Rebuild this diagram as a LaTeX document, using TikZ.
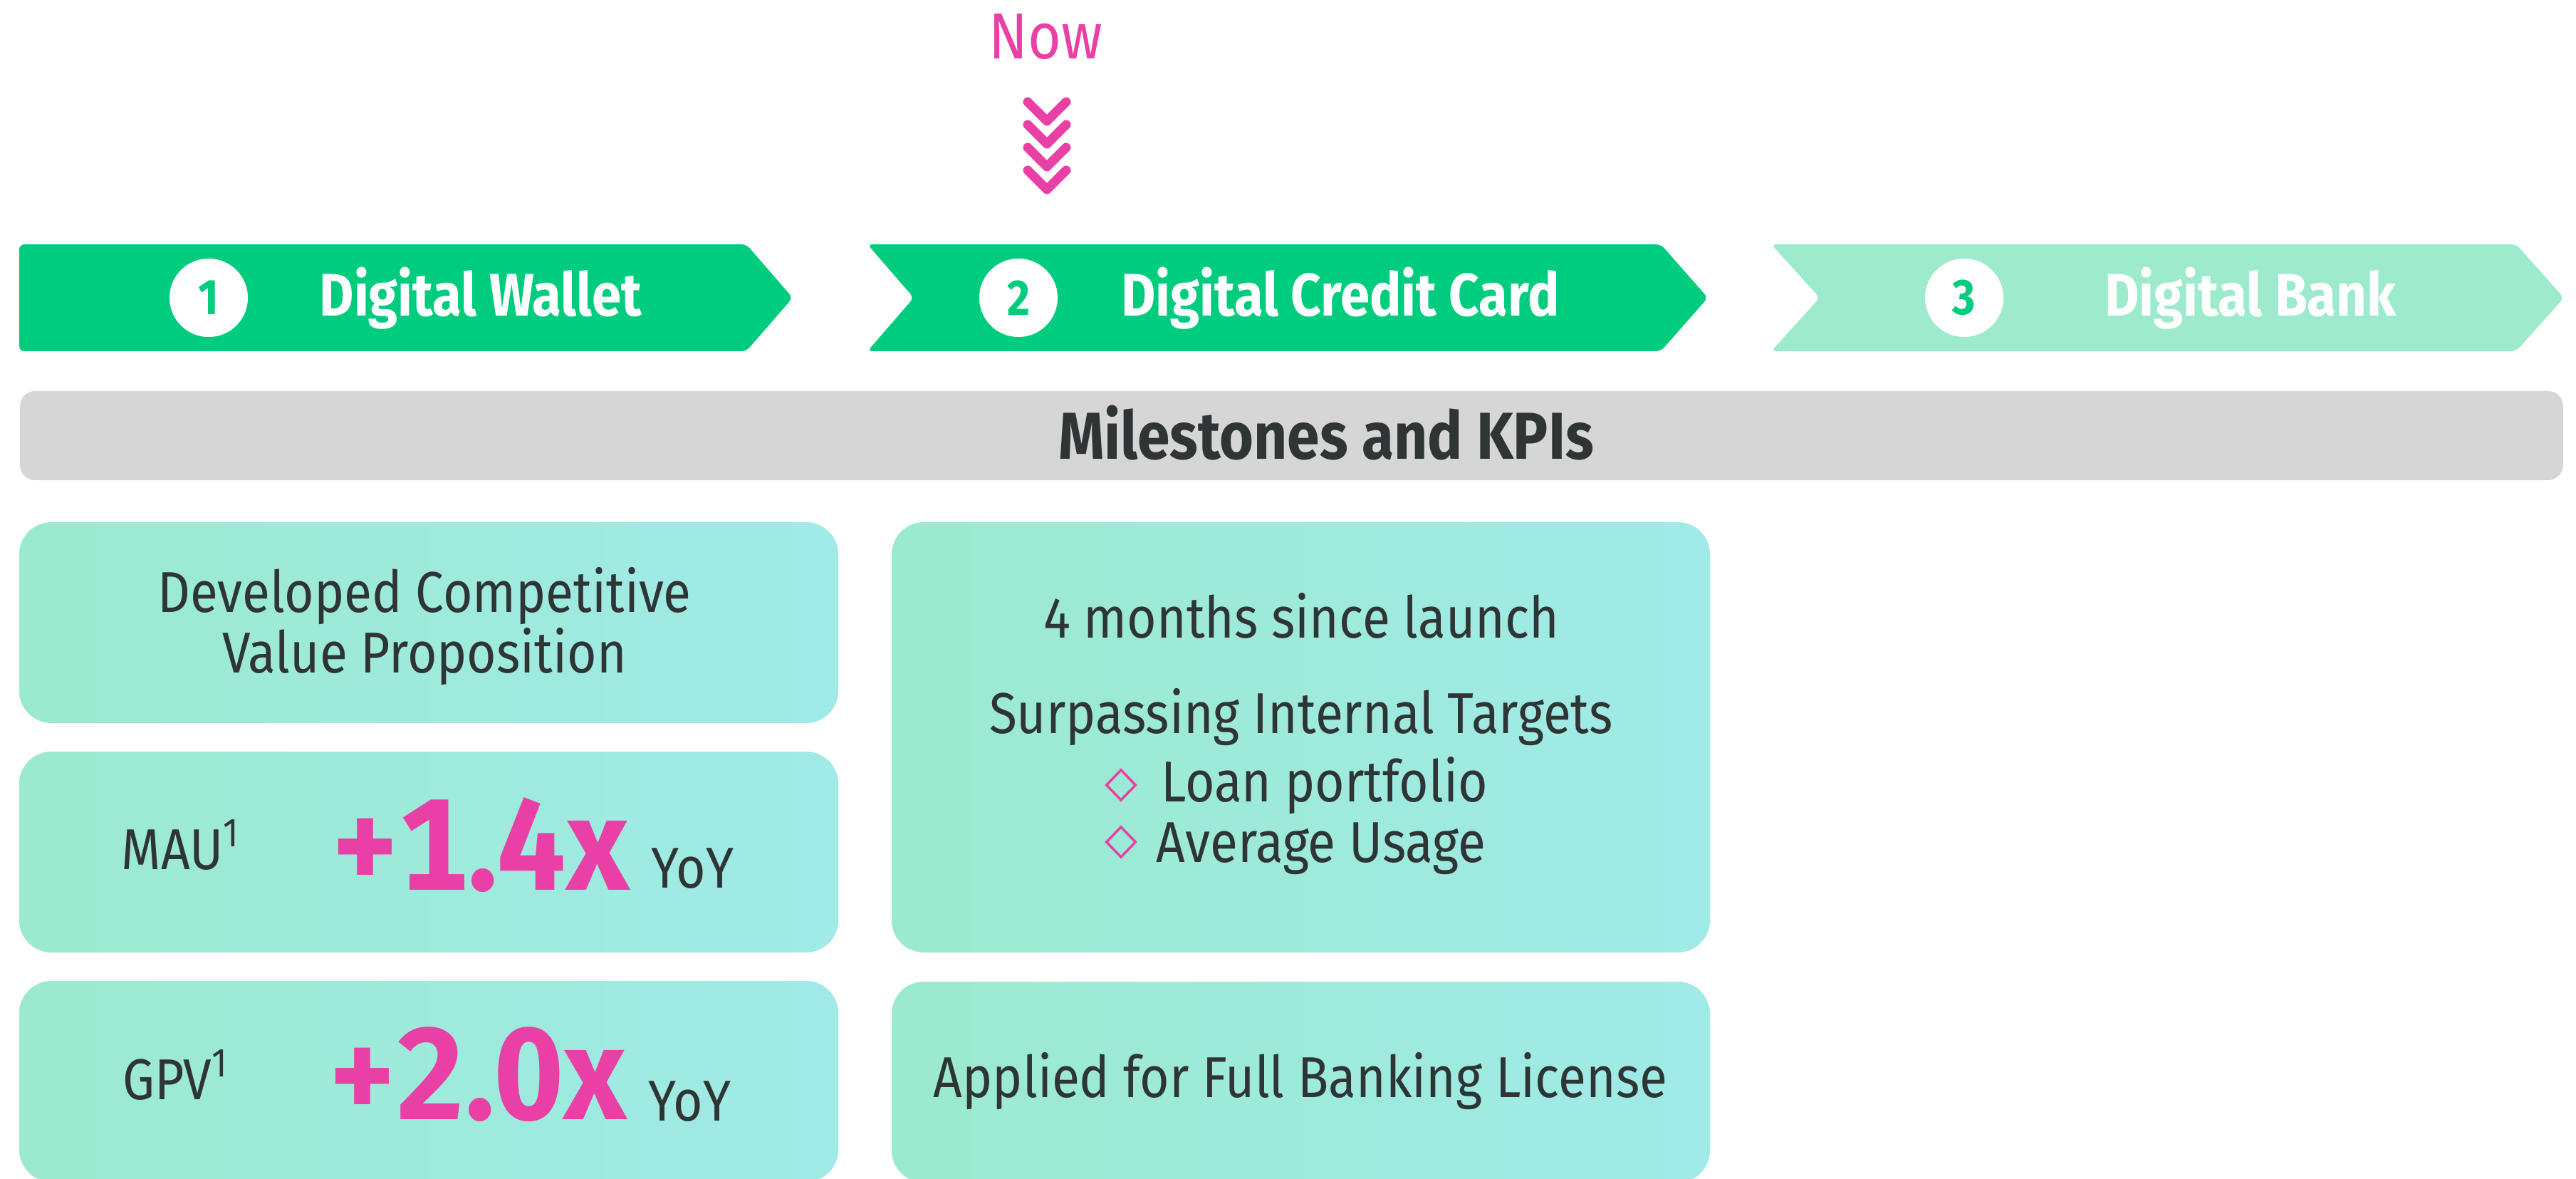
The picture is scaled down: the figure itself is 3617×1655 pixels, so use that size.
\documentclass[tikz,border=0pt]{standalone}
\usepackage{fontspec}
\setmainfont{Fira Sans}[FakeStretch=0.88]
\newfontfamily\kbigfont{Fira Sans}[Numbers=Monospaced,FakeStretch=0.945]
\definecolor{kGreen}{RGB}{0,204,126}
\definecolor{kPale}{RGB}{157,235,204}
\definecolor{kPink}{RGB}{233,64,166}
\definecolor{kInk}{RGB}{47,52,53}
\definecolor{kGray}{RGB}{214,214,214}
\definecolor{kBoxL}{RGB}{155,234,206}
\definecolor{kBoxR}{RGB}{160,234,232}
\tikzset{
  stage/.style={rounded corners=2pt},
  kpibox/.style={left color=kBoxL,right color=kBoxR,rounded corners=12.8pt},
  badge/.style={circle,fill=white,minimum size=31.3pt,inner sep=0pt,font=\fontsize{20}{24}\bfseries\selectfont},
  txt/.style={anchor=base,inner sep=0pt,text=kInk,font=\fontsize{23}{27}\selectfont},
  head/.style={anchor=base,inner sep=0pt,text=white,font=\fontsize{24}{28}\bfseries\selectfont},
  big/.style={anchor=base west,inner sep=0pt,text=kPink,font=\kbigfont\fontsize{52}{58}\bfseries\selectfont},
  bullet/.style={diamond,draw=kPink,line width=1pt,minimum width=12pt,minimum height=12.4pt,inner sep=0pt},
}
\usetikzlibrary{shapes.geometric}
\begin{document}
\begin{tikzpicture}[x=0.01cm,y=-0.01cm]
\useasboundingbox(0,0)rectangle(3617,1655);
\node[anchor=base,inner sep=0pt,text=kPink,font=\fontsize{26}{30}\selectfont](now)at(1468,83){Now};
\foreach \k in {0,...,3}
  \draw[kPink,line width=3.7pt,line cap=round,line join=round](1443,{143+32*\k})--++(27,27)--++(27,-27);
\fill[kGreen,stage](27,343)--(1048,343)--(1113,418)--(1048,493)--(27,493)--cycle;
\fill[kGreen,stage](1218,343)--(2332,343)--(2398,418)--(2332,493)--(1218,493)--(1283,418)--cycle;
\fill[kPale,stage](2487,343)--(3533,343)--(3600,418)--(3533,493)--(2487,493)--(2555,418)--cycle;
\node[badge,text=kGreen](n1)at(293,418){1};
\node[badge,text=kGreen](n2)at(1430,418){2};
\node[badge,text=kGreen](n3)at(2758,418){3};
\node[head](s1)at(675,444){Digital Wallet};
\node[head](s2)at(1882,444){Digital Credit Card};
\node[head](s3)at(3160,444){Digital Bank};
\fill[kGray,rounded corners=6pt](28,549)rectangle(3599,674);
\node[anchor=base,inner sep=0pt,text=kInk,font=\fontsize{26.5}{31}\bfseries\selectfont](ms)at(1862,644){Milestones and KPIs};
\shade[kpibox](27,733)rectangle(1177,1015);
\shade[kpibox](27,1055)rectangle(1177,1337);
\shade[kpibox](27,1377)rectangle(1177,1659);
\shade[kpibox](1252,733)rectangle(2401,1337);
\shade[kpibox](1252,1378)rectangle(2401,1660);
\node[txt](vp1)at(596,859){Developed Competitive};
\node[txt](vp2)at(596,944){Value Proposition};
\node[txt,anchor=base west](mau)at(170,1220){MAU\textsuperscript{1}};
\node[big](maux)at(463,1249){+1.4x};
\node[txt,anchor=base west](mauy)at(914,1246){YoY};
\node[txt,anchor=base west](gpv)at(172,1543){GPV\textsuperscript{1}};
\node[big](gpvx)at(459,1571){+2.0x};
\node[txt,anchor=base west](gpvy)at(910,1573){YoY};
\node[txt](cc1)at(1827,895){4 months since launch};
\node[txt](cc2)at(1827,1029){Surpassing Internal Targets};
\node[bullet](b1)at(1574,1102){};
\node[txt,anchor=base west](cc3)at(1630,1125){Loan portfolio};
\node[bullet](b2)at(1574,1182){};
\node[txt,anchor=base west](cc4)at(1623,1210){Average Usage};
\node[txt](lic)at(1826,1540){Applied for Full Banking License};
\end{tikzpicture}
\end{document}
